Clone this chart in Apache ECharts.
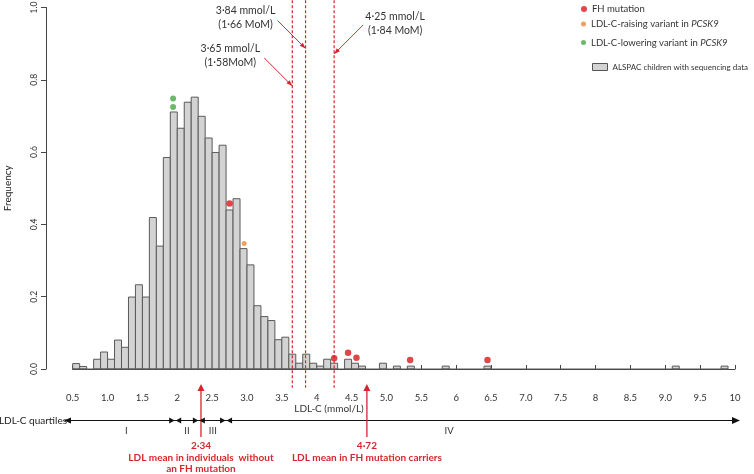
<!DOCTYPE html>
<html><head><meta charset="utf-8">
<script src="https://cdn.jsdelivr.net/npm/echarts@6/dist/echarts.min.js"></script>
<style>html,body{margin:0;padding:0;background:#fff}#c{width:754px;height:474px}</style>
</head><body><div id="c"></div>
<script>
// ---- data ----
const binWidth = 0.1;
const binStart = [0.5,0.6,0.8,0.9,1.0,1.1,1.2,1.3,1.4,1.5,1.6,1.7,1.8,1.9,2.0,2.1,2.2,2.3,2.4,2.5,2.6,2.7,2.8,2.9,3.0,3.1,3.2,3.3,3.4,3.5,3.6,3.7,3.8,3.9,4.0,4.1,4.2,4.4,4.5,4.6,4.9,5.1,5.3,5.8,6.4,9.1,9.8];
const binFreq  = [0.015,0.007,0.027,0.047,0.027,0.08,0.06,0.199,0.233,0.199,0.419,0.34,0.585,0.711,0.666,0.738,0.752,0.699,0.639,0.599,0.619,0.44,0.471,0.333,0.288,0.175,0.145,0.134,0.081,0.088,0.041,0.016,0.041,0.016,0.008,0.027,0.016,0.027,0.016,0.008,0.016,0.008,0.008,0.008,0.008,0.008,0.008];
const fhX = [2.75,4.25,4.45,4.57,5.34,6.45];
const fhY = [0.458,0.030,0.045,0.031,0.025,0.025];
const raiseX = [2.96];
const raiseY = [0.347];
const lowerX = [1.94,1.94];
const lowerY = [0.748,0.725];
const cutoffs = [3.65,3.84,4.25];
const cutoffText = [['3·65 mmol/L','(1·58MoM)'],['3·84 mmol/L','(1·66 MoM)'],['4·25 mmol/L','(1·84 MoM)']];
const meanValues = [2.34,4.72];
const meanText = [['2·34','LDL mean in individuals  without','an FH mutation'],['4·72','LDL mean in FH mutation carriers']];
const quartileBounds = [1.97,2.31,2.70];
const quartileNames = ['I','II','III','IV'];
const quartileLabelX = [1.27,2.14,2.51,5.9];
const xTickLabels = ['0.5','1.0','1.5','2','2.5','3.0','3.5','4','4.5','5.0','5.5','6','6.5','7.0','7.5','8','8.5','9.0','9.5','10'];
const legendNames = ['FH mutation','LDL-C-raising variant in PCSK9','LDL-C-lowering variant in PCSK9','ALSPAC children with sequencing data'];

// ---- chart ----
const FONT = 'Lato, "Noto Sans", sans-serif';
const RED = '#d7262b', DOT_RED = '#d7191c', ORANGE = '#e8893a', GREEN = '#48a847';
const chart = echarts.init(document.getElementById('c'));
function legendText(fs){
  return {fontSize:fs, color:'#333', fontFamily:FONT, rich:{i:{fontStyle:'italic', fontSize:fs, color:'#333', fontFamily:FONT}}};
}
const fmtLegend = n => n.replace('PCSK9','{i|PCSK9}');
function leg(name, left, top, icon, w, h, fs, extra){
  const item = Object.assign({name:name, icon:icon}, extra||{});
  return {data:[item], left:left, top:top, orient:'vertical', padding:0, itemWidth:w, itemHeight:h, itemGap:5,
    formatter:fmtLegend, textStyle:legendText(fs), selectedMode:false};
}
const histData = binStart.map((b,i)=>[b, binFreq[i]]);
const last = binStart.length-1;
// vertical extent of the cutoff lines, in frequency units (slightly beyond the axis range)
const cutTop = 1.02, cutBottom = -0.052;

const cutoffSeries = cutoffs.map(c=>({
  type:'line', data:[[c,cutTop],[c,cutBottom]], symbol:'none', clip:false, silent:true, z:4,
  lineStyle:{color:RED, width:1.2, type:[3,2]}
}));

chart.setOption({
  animation:false,
  grid:{left:72.7, top:7.5, width:662.3, height:361.5, outerBoundsMode:'none'},
  xAxis:{type:'value', min:0.5, max:10, interval:0.5, offset:17,
    axisLine:{show:true, lineStyle:{color:'#444', width:1}},
    axisTick:{show:true, inside:true, length:4, lineStyle:{color:'#444'}},
    axisLabel:{margin:7, fontSize:9.5, color:'#333', fontFamily:FONT,
      formatter:v=>xTickLabels[Math.round((v-0.5)/0.5)]},
    splitLine:{show:false}},
  yAxis:{type:'value', min:0, max:1, interval:0.2, offset:26.7,
    name:'Frequency', nameLocation:'middle', nameGap:33, nameRotate:90,
    nameTextStyle:{fontSize:10, color:'#222', fontFamily:FONT},
    axisLine:{show:true, lineStyle:{color:'#444', width:1}},
    axisTick:{show:true, length:5, lineStyle:{color:'#444'}},
    axisLabel:{rotate:90, margin:7, fontSize:8.5, color:'#333', fontFamily:FONT, formatter:v=>v.toFixed(1)},
    splitLine:{show:false}},
  legend:[
    leg(legendNames[0], 581, 4, 'circle', 6, 6, 9.5),
    leg(legendNames[1], 581, 19, 'circle', 5, 5, 9.5),
    leg(legendNames[2], 581, 37.5, 'circle', 5, 5, 9.5),
    leg(legendNames[3], 592, 63, 'rect', 15, 7, 8, {itemStyle:{color:'#d3d3d3', borderColor:'#555', borderWidth:1}})
  ],
  series:[
    {type:'custom', name:legendNames[3], data:histData, encode:{x:0, y:1},
      itemStyle:{color:'#d3d3d3'},
      renderItem:function(params, api){
        const x0 = api.value(0), f = api.value(1);
        const p0 = api.coord([x0, f]);
        const p1 = api.coord([x0 + binWidth, 0]);
        return {type:'rect', shape:{x:p0[0], y:p0[1], width:p1[0]-p0[0], height:p1[1]-p0[1]},
          style:{fill:'#d3d3d3', stroke:'#5a5a5a', lineWidth:1}};
      }, z:2},
    {type:'line', data:[[binStart[0],0],[binStart[last]+binWidth,0]], symbol:'none',
      lineStyle:{color:'#5a5a5a', width:1}, z:3, silent:true},
    {type:'scatter', name:legendNames[0], data:fhX.map((x,i)=>[x, fhY[i]]), symbolSize:6.5, itemStyle:{color:DOT_RED}, z:5},
    {type:'scatter', name:legendNames[1], data:raiseX.map((x,i)=>[x, raiseY[i]]), symbolSize:5, itemStyle:{color:ORANGE}, z:5},
    {type:'scatter', name:legendNames[2], data:lowerX.map((x,i)=>[x, lowerY[i]]), symbolSize:6, itemStyle:{color:GREEN}, z:5}
  ].concat(cutoffSeries)
});

// ---- annotations ----
const px = v => chart.convertToPixel({xAxisIndex:0}, v);
function head(x1,y1,x2,y2,len,wid,color){
  const dx=x2-x1, dy=y2-y1, L=Math.hypot(dx,dy), ux=dx/L, uy=dy/L;
  const bx=x2-ux*len, by=y2-uy*len;
  return {type:'polygon', shape:{points:[[x2,y2],[bx-uy*wid/2, by+ux*wid/2],[bx+uy*wid/2, by-ux*wid/2]]},
    style:{fill:color, stroke:null}, z:20, silent:true};
}
function txt(t,x,y,opt){
  return {type:'text', x:x, y:y, z:20, silent:true, style:Object.assign({text:t, fill:'#333', fontSize:10.5, fontFamily:FONT,
    textAlign:'center', textVerticalAlign:'middle'}, opt||{})};
}
function seg(x1,y1,x2,y2,color,w){
  return {type:'line', shape:{x1:x1,y1:y1,x2:x2,y2:y2}, z:19, silent:true,
    style:{stroke:color, fill:null, lineWidth:w||1}};
}
const g = [];
// cutoff labels and arrows
const arrowEndY = [86, 48.5, 54];
const arrowDx = [-28, -28, 29];
const arrowDy = [-28, -28, -29];
const labelDx = [-62, -60, 61];
const labelY = [48.5, 11, 17];
cutoffs.forEach((c,i)=>{
  const x = px(c);
  const sx = x+arrowDx[i], sy = arrowEndY[i]+arrowDy[i];
  g.push(seg(sx,sy,x,arrowEndY[i],RED));
  g.push(head(sx,sy,x,arrowEndY[i],6,4.5,RED));
  g.push(txt(cutoffText[i][0], x+labelDx[i], labelY[i]));
  g.push(txt(cutoffText[i][1], x+labelDx[i], labelY[i]+14));
});
// x-axis name
g.push(txt('LDL-C (mmol/L)', 329, 409, {fontSize:10}));
// quartile row
const qy = 420.5;
g.push(seg(66,qy,736,qy,'#111'));
g.push(head(74,qy,64,qy,7,6,'#111'));
g.push(head(728,qy,740,qy,8,7,'#111'));
g.push(txt('LDL-C quartiles', 67, qy, {textAlign:'right', fontSize:10, fill:'#222'}));
quartileBounds.forEach(b=>{
  const x = px(b);
  g.push(head(x-6,qy,x-0.5,qy,5.5,6,'#111'));
  g.push(head(x+6,qy,x+0.5,qy,5.5,6,'#111'));
});
quartileNames.forEach((n,i)=>g.push(txt(n, px(quartileLabelX[i]), 431, {fontSize:9.5})));
// mean arrows
meanValues.forEach((m,i)=>{
  const x = px(m);
  g.push(seg(x,437,x,390,RED,1.3));
  g.push(head(x,437,x,384,7,7,RED));
  meanText[i].forEach((t,j)=>g.push(txt(t, x, 446+j*11.5, {fill:RED, fontWeight:'bold', fontSize:10})));
});
chart.setOption({graphic:g});
</script>
</body></html>
